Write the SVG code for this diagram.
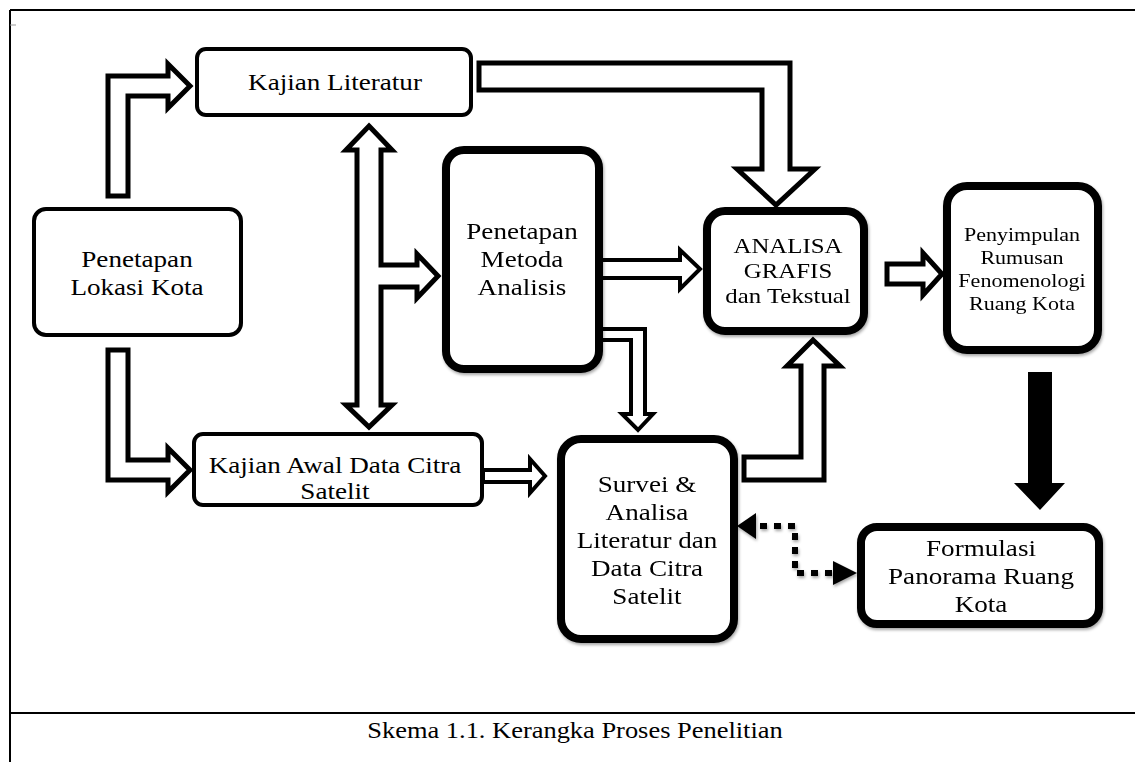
<svg xmlns="http://www.w3.org/2000/svg" width="1135" height="762" viewBox="0 0 1135 762">
<defs>
<style>
.frame{stroke:#000;stroke-width:2;fill:none}
.box{fill:#fff;stroke:#000;stroke-width:4}
.bold{fill:#fff;stroke:#000;stroke-width:8}
.arr{fill:#fff;stroke:#000;stroke-width:5;stroke-linejoin:miter}
.arr-s{fill:#fff;stroke:#000;stroke-width:4;stroke-linejoin:miter}
.solid{fill:#000;stroke:none}
.dots{fill:none;stroke:#000;stroke-width:6;stroke-dasharray:7 7}
.t{font-family:"Liberation Serif","Times New Roman",Tinos,serif;font-size:24px;fill:#000;text-anchor:middle}
.t22{font-size:22px}
.t19{font-size:19.5px}
.cap{font-size:23px}
</style>
<filter id="sh" x="-10%" y="-10%" width="130%" height="130%">
<feDropShadow dx="1" dy="2" stdDeviation="1.5" flood-color="#000" flood-opacity="0.35"/>
</filter>
</defs>
<rect width="1135" height="762" fill="#fff"/>
<g id="frame">
<line class="frame" x1="10" y1="10" x2="1135" y2="10"/>
<line class="frame" x1="10" y1="10" x2="10" y2="762"/>
<line class="frame" x1="10" y1="713" x2="1135" y2="713"/>
<line x1="10" y1="25" x2="16" y2="25" stroke="#999" stroke-width="1"/>
</g>
<g id="connectors">
<path class="arr" d="M108,196 L108,76 L168,76 L168,64 L190,86 L168,108 L168,96 L128,96 L128,196 Z"/>
<path class="arr" d="M108,350 L128,350 L128,460 L168,460 L168,448 L190,470 L168,492 L168,480 L108,480 Z"/>
<path class="arr" stroke-linejoin="round" d="M369,126 L392,150 L381,150 L381,265 L417,265 L417,254 L438,276 L417,298 L417,287 L381,287 L381,405 L392,405 L369,427 L346,405 L357,405 L357,150 L346,150 Z"/>
<path class="arr" d="M479,63 L790,63 L790,169 L815,169 L776,205 L737,169 L762,169 L762,90 L479,90 Z"/>
<path class="arr-s" d="M590,260 L680,260 L680,250 L700,269 L680,289 L680,278 L590,278 Z"/>
<path class="arr-s" d="M590,329 L645,329 L645,414 L653,414 L638,430 L622,414 L631,414 L631,340 L590,340 Z"/>
<path class="arr-s" d="M483,470 L530,470 L530,459 L545,476 L530,493 L530,482 L483,482 Z"/>
<path class="arr" d="M744,457 L801,457 L801,366 L787,366 L813,340 L840,366 L824,366 L824,480 L744,480 Z"/>
<path class="arr" d="M887,264 L923,264 L923,253 L942,274 L923,295 L923,284 L887,284 Z"/>
<path class="solid" d="M1028,372 L1052,372 L1052,483 L1065,483 L1040,510 L1014,483 L1028,483 Z"/>
<g filter="url(#sh)">
<path class="dots" d="M760,526 L795,526 L795,573 L832,573"/>
<path class="solid" d="M737,526 L756,513 L756,539 Z"/>
<path class="solid" d="M857,573 L833,561 L833,585 Z"/>
</g>
</g>
<g id="kajian-literatur">
<rect class="box" x="197" y="49" width="274" height="66" rx="9"/>
<text class="t" transform="translate(335 0) scale(1.13 1)"><tspan x="0" y="90">Kajian Literatur</tspan></text>
</g>
<g id="penetapan-lokasi">
<rect class="box" x="34" y="209" width="207" height="126" rx="12"/>
<text class="t" transform="translate(137 0) scale(1.13 1)"><tspan x="0" y="267">Penetapan</tspan><tspan x="0" y="295">Lokasi Kota</tspan></text>
</g>
<g id="kajian-awal">
<rect class="box" x="194" y="434" width="288" height="71" rx="9"/>
<text class="t" transform="translate(335 0) scale(1.13 1)"><tspan x="0" y="473">Kajian Awal Data Citra</tspan><tspan x="0" y="499">Satelit</tspan></text>
</g>
<g id="penetapan-metoda" filter="url(#sh)">
<rect class="bold" x="446" y="150" width="153" height="219" rx="18"/>
<text class="t" transform="translate(522 0) scale(1.13 1)"><tspan x="0" y="239">Penetapan</tspan><tspan x="0" y="267">Metoda</tspan><tspan x="0" y="295">Analisis</tspan></text>
</g>
<g id="analisa-grafis" filter="url(#sh)">
<rect class="bold" x="707" y="211" width="157" height="120" rx="18"/>
<text class="t t22" transform="translate(788 0) scale(1.13 1)"><tspan x="0" y="253">ANALISA</tspan><tspan x="0" y="278">GRAFIS</tspan><tspan x="0" y="303">dan Tekstual</tspan></text>
</g>
<g id="penyimpulan" filter="url(#sh)">
<rect class="bold" x="947" y="186" width="151" height="164" rx="20"/>
<text class="t t19" transform="translate(1022 0) scale(1.13 1)"><tspan x="0" y="241">Penyimpulan</tspan><tspan x="0" y="264">Rumusan</tspan><tspan x="0" y="287">Fenomenologi</tspan><tspan x="0" y="310">Ruang Kota</tspan></text>
</g>
<g id="survei" filter="url(#sh)">
<rect class="bold" x="561" y="439" width="173" height="200" rx="20"/>
<text class="t" transform="translate(647 0) scale(1.13 1)"><tspan x="0" y="492">Survei &amp;</tspan><tspan x="0" y="520">Analisa</tspan><tspan x="0" y="548">Literatur dan</tspan><tspan x="0" y="576">Data Citra</tspan><tspan x="0" y="604">Satelit</tspan></text>
</g>
<g id="formulasi" filter="url(#sh)">
<rect class="bold" x="861" y="527" width="238" height="97" rx="16"/>
<text class="t" transform="translate(981 0) scale(1.13 1)"><tspan x="0" y="556">Formulasi</tspan><tspan x="0" y="584">Panorama Ruang</tspan><tspan x="0" y="612">Kota</tspan></text>
</g>
<g id="caption">
<text class="t cap" transform="translate(575 0) scale(1.15 1)"><tspan x="0" y="738">Skema 1.1. Kerangka Proses Penelitian</tspan></text>
</g>
</svg>
